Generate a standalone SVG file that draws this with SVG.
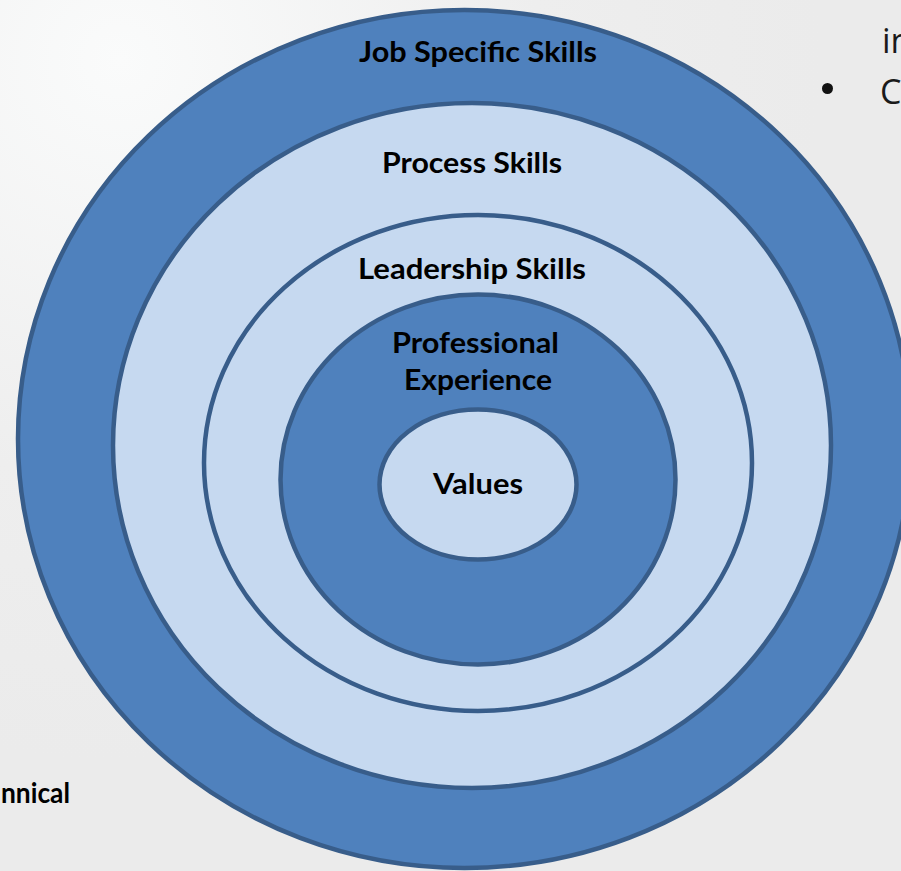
<svg xmlns="http://www.w3.org/2000/svg" width="901" height="871" viewBox="0 0 901 871">
  <defs>
    <radialGradient id="bg" cx="120" cy="60" r="700" gradientUnits="userSpaceOnUse">
      <stop offset="0" stop-color="#fafbfb"/>
      <stop offset="0.6" stop-color="#eeeeee"/>
      <stop offset="1" stop-color="#ebebeb"/>
    </radialGradient>
  </defs>
  <style>
    .ring { stroke: #385d8a; stroke-width: 4.5; }
    .dark { fill: #4f81bd; }
    .light { fill: #c6d9f0; }
    .label { font-family: Lato, "Open Sans", "Liberation Sans", sans-serif; font-weight: bold; font-size: 28.5px; fill: #000000; text-anchor: middle; }
    .side { font-family: "Open Sans", "Liberation Sans", sans-serif; font-size: 34px; fill: #1a1a1a; }
  </style>

  <!-- slide background -->
  <rect x="0" y="0" width="901" height="871" fill="url(#bg)"/>

  <!-- concentric skill rings, outermost first -->
  <g id="job-specific-skills">
    <ellipse class="ring dark" cx="464.5" cy="439" rx="446.5" ry="429"/>
    <text class="label" x="478" y="62" textLength="238" lengthAdjust="spacingAndGlyphs">Job Specific Skills</text>
  </g>

  <g id="process-skills">
    <ellipse class="ring light" cx="472" cy="445.5" rx="359" ry="342.5"/>
    <text class="label" x="472" y="173" textLength="180" lengthAdjust="spacingAndGlyphs">Process Skills</text>
  </g>

  <g id="leadership-skills">
    <ellipse class="ring light" cx="478" cy="463" rx="274" ry="248"/>
    <text class="label" x="472" y="279" textLength="228" lengthAdjust="spacingAndGlyphs">Leadership Skills</text>
  </g>

  <g id="professional-experience">
    <ellipse class="ring dark" cx="478" cy="479.5" rx="197.5" ry="185"/>
    <text class="label" x="475.5" y="353" textLength="167" lengthAdjust="spacingAndGlyphs">Professional</text>
    <text class="label" x="478" y="390" textLength="148" lengthAdjust="spacingAndGlyphs">Experience</text>
  </g>

  <g id="values">
    <ellipse class="ring light" cx="478" cy="484.5" rx="98.5" ry="75"/>
    <text class="label" x="478" y="494" textLength="90" lengthAdjust="spacingAndGlyphs">Values</text>
  </g>

  <!-- neighbouring slide text at the frame edges -->
  <text class="label" x="35.5" y="803" textLength="69" lengthAdjust="spacingAndGlyphs">nnical</text>
  <text class="side" x="882" y="53">in</text>
  <circle cx="827.5" cy="88.5" r="5.5" fill="#111111"/>
  <text class="side" x="880" y="104">C</text>
</svg>
